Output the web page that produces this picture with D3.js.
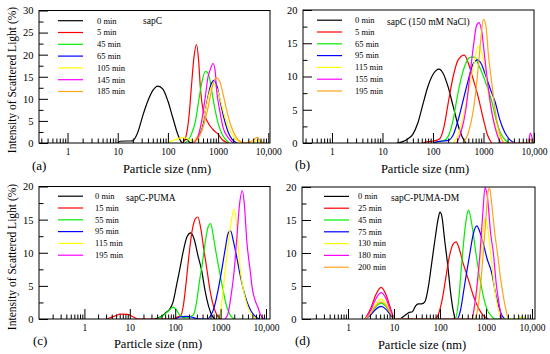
<!DOCTYPE html>
<html><head><meta charset="utf-8">
<script src="https://cdn.jsdelivr.net/npm/d3@7"></script>
<style>html,body{margin:0;padding:0;background:#fff;} svg{display:block;} svg text{font-family:"Liberation Serif","DejaVu Serif",serif !important;}</style>
</head><body>
<svg id="chart" width="550" height="354"></svg>
<script>
// ---------- tick data ----------
const xMajorValues = [1, 10, 100, 1000, 10000];
const xMajorLabels = ["1", "10", "100", "1000", "10,000"];
const minorMultipliers = [2, 3, 4, 5, 6, 7, 8, 9];
const yMajorA = [0, 5, 10, 15, 20, 25, 30];
const yMinorA = [2.5, 7.5, 12.5, 17.5, 22.5, 27.5];
const yMajor20 = [0, 5, 10, 15, 20];
const yMinor20 = [2.5, 7.5, 12.5, 17.5];

// ---------- panel (a) sapC ----------
const namesA = ["0 min", "5 min", "45 min", "65 min", "105 min", "145 min", "185 min"];
const a0 = [[10,0],[11.2,0.4],[20,0.5],[22.4,1.2],[25.1,2.4],[31.6,6.2],[39.8,9.5],[50.1,11.9],[63.1,12.9],[79.4,12.2],[100,9.5],[126,5.6],[158,1.9],[186,0.2],[195,0.05],[214,0.6],[234,0.9],[263,0.3],[302,0]];
const a5 = [[195,0],[229,1.5],[263,6],[295,13],[331,19.5],[372,22.3],[407,19],[447,12],[501,7.5],[603,5],[794,3],[1000,2],[1202,0.8],[1585,0]];
const a45 = [[219,0],[282,1.5],[355,5],[417,10],[479,14],[562,16.2],[646,15.5],[741,12],[871,7.5],[1000,4.5],[1202,2],[1413,0.8],[1660,0]];
const a65 = [[316,0],[398,1.2],[501,4.5],[603,9.5],[724,13.3],[832,14.2],[955,12.8],[1122,9],[1318,5.5],[1585,2.5],[1905,0.8],[2399,0]];
const a105 = [[95.5,0],[141,0.8],[200,1.2],[263,0.8],[316,0.5],[355,1],[447,3],[562,7.5],[676,11.5],[794,13.3],[933,12.5],[1122,9.5],[1318,6.5],[1585,3.8],[1995,1.5],[2512,0.4],[2818,0],[5012,0],[6026,0.6],[7079,0]];
const a145 = [[316,0],[398,1.5],[479,5.5],[550,10],[631,15],[692,16.5],[794,18],[871,16.5],[933,12],[1072,7.5],[1259,3.5],[1585,1.2],[1995,0]];
const a185 = [[316,0],[398,1],[501,3.5],[631,8],[759,12.5],[912,14.8],[1072,14],[1259,11],[1514,7],[1820,3.8],[2239,1.5],[2818,0.3],[3548,0.1],[4467,0.3],[5248,0.8],[6026,1.3],[6918,0.5],[7943,0]];

// ---------- panel (b) sapC (150 mM NaCl) ----------
const namesB = ["0 min", "5 min", "65 min", "95 min", "115 min", "155 min", "195 min"];
const b0 = [[19.1,0],[25.1,0.2],[31.6,0.6],[39.8,1.3],[50.1,3],[63.1,5.8],[79.4,8.5],[100,10.3],[132,11.1],[158,10.5],[200,8.4],[251,5.5],[316,2.6],[380,0.9],[447,0]];
const b5 = [[63.1,0],[79.4,0.2],[100,0.3],[126,0.5],[141,0.8],[166,2.5],[200,6],[251,10],[316,12.5],[417,13.2],[501,12],[631,9.5],[794,6.8],[1000,3.5],[1202,1.2],[1445,0]];
const b65 = [[100,0],[126,0.2],[158,0.3],[200,1],[251,3.5],[295,6.5],[355,9.5],[447,12],[562,12.9],[676,12.9],[794,11.8],[1000,10],[1259,7.8],[1445,6.4],[1778,3.5],[2239,1.3],[2818,0.3],[3162,0]];
const b95 = [[100,0],[126,0.2],[158,0.3],[200,0.4],[251,1.2],[316,3.5],[398,6.5],[501,9.5],[631,12],[759,12.5],[891,12],[1122,10],[1413,7.8],[1698,6.2],[2089,3.6],[2630,1.6],[3311,0.5],[4169,0]];
const b115 = [[251,0],[316,1.2],[398,4],[501,7.5],[631,11.5],[794,14.6],[933,13.5],[1122,10.5],[1259,7.3],[1585,3.5],[1995,1.2],[2630,0]];
const b155 = [[295,0],[355,1.5],[447,5],[525,9.5],[631,14.5],[724,17.6],[813,18.1],[912,17],[1072,12.5],[1259,8],[1514,4],[1820,1.5],[2291,0],[7586,0],[8511,1.5],[9550,0]];
const b195 = [[398,0],[501,1.5],[631,5],[741,9.3],[871,15],[1000,18.6],[1122,17.5],[1259,13],[1445,9.3],[1738,4.5],[2089,1.5],[2630,0],[7586,0],[8511,0.6],[9550,0]];

// ---------- panel (c) sapC-PUMA ----------
const namesC = ["0 min", "15 min", "55 min", "95 min", "115 min", "195 min"];
const c0 = [[35.5,0],[50.1,0.4],[63.1,1],[75.9,1.5],[89.1,2.5],[105,4.8],[126,7.5],[151,10.3],[182,12.4],[219,13],[263,12],[316,9.6],[380,7.4],[457,4.2],[550,1.8],[661,0.4],[759,0]];
const c15 = [[3.16,0],[4.47,0.4],[6.31,0.75],[8.91,0.7],[12,0.3],[14.8,0],[89.1,0],[112,0.3],[132,0.5],[151,2],[174,5.5],[200,9.5],[234,13.2],[282,15.2],[316,15.4],[363,13.8],[427,10.5],[501,7.4],[589,4.2],[708,1.8],[851,0.5],[1000,0]];
const c55 = [[39.8,0],[56.2,0.6],[75.9,1.4],[89.1,1.8],[105,1.4],[126,0.6],[158,0.2],[200,0.3],[251,0.6],[295,2.5],[339,5.5],[398,8.5],[468,12],[537,14],[603,14.4],[692,12.5],[794,10],[933,7.4],[1122,4.5],[1349,2],[1660,0.5],[1995,0]];
const c95 = [[100,0],[126,0.3],[178,0.4],[224,0.3],[282,0.1],[355,0],[501,0],[603,0.5],[724,1.8],[871,4.2],[1047,7.2],[1259,10.5],[1479,13],[1660,13.3],[1905,11.8],[2239,9.5],[2630,7],[3162,4.5],[3802,2.6],[4677,1.2],[5754,0.4],[7079,0]];
const c115 = [[891,0],[1000,1],[1122,4],[1259,7.4],[1479,11.5],[1738,15],[1995,16.6],[2239,14.5],[2512,10],[2818,6.5],[3311,3.8],[3981,1.8],[5012,0.5],[6310,0]];
const c195 = [[1259,0],[1479,1],[1698,3.5],[1995,7.4],[2291,12.5],[2630,17.5],[3020,19.4],[3311,17.5],[3802,11.5],[4467,7.4],[5012,4.5],[5754,2.8],[6607,1.8],[7586,0.6],[8913,0]];

// ---------- panel (d) sapC-PUMA-DM ----------
const namesD = ["0 min", "25 min", "45 min", "75 min", "130 min", "180 min", "200 min"];
const d0 = [[13.5,0],[17.8,0.6],[21.4,1],[25.1,1.1],[29.5,2],[33.9,2.3],[39.8,2.3],[46.8,2.6],[56.2,5],[66.1,8.5],[79.4,12.5],[91.2,15.2],[100,16.2],[110,15.5],[126,12],[148,8],[170,4],[191,1.5],[214,0]];
const d25 = [[2.34,0],[3.16,1.7],[3.98,3.6],[5.25,4.8],[6.61,3.8],[8.32,1.7],[10.5,0],[77.6,0],[93.3,0.8],[112,3],[132,6],[158,9.3],[191,11.3],[224,11.7],[263,10.6],[316,8.5],[380,6.8],[447,5.2],[525,3.6],[631,2.2],[794,0.9],[1000,0.2],[1122,0]];
const d45 = [[2.34,0],[3.16,0.85],[3.98,1.8],[5.25,2.4],[6.61,1.9],[8.32,0.85],[10.5,0],[214,0],[251,2.5],[295,8.2],[347,13.5],[398,16.2],[417,16.5],[501,14],[603,10],[724,6.5],[871,3.5],[1047,1.5],[1318,0.4],[1585,0],[5012,0],[6026,0.3],[7244,0]];
const d75 = [[2.34,0],[3.16,0.65],[3.98,1.45],[5.25,1.9],[6.61,1.5],[8.32,0.65],[10.5,0],[234,0],[282,1.5],[331,4.5],[380,7.1],[447,10],[525,12.8],[631,14.1],[724,13.3],[871,11.5],[1047,9.2],[1318,7.1],[1585,4.2],[1905,1.8],[2239,0.5],[2570,0]];
const d130 = [[2.34,0],[3.16,1.05],[3.98,2.25],[5.25,3],[6.61,2.4],[8.32,1.05],[10.5,0],[490,0],[562,1.5],[661,5],[759,9.5],[871,13.5],[955,15.3],[1072,14],[1259,10],[1479,5.5],[1778,2],[2188,0],[5012,0],[6026,0.3],[7244,0]];
const d180 = [[2.34,0],[3.16,1.4],[3.98,3],[5.25,4],[6.61,3.2],[8.32,1.4],[10.5,0],[490,0],[562,2],[646,5.5],[741,10],[851,16],[955,19.9],[1072,18.5],[1259,13],[1445,10],[1660,5.5],[1905,2.5],[2188,0]];
const d200 = [[2.34,0],[3.16,0.9],[3.98,1.95],[5.25,2.6],[6.61,2.1],[8.32,0.9],[10.5,0],[575,0],[661,1.5],[759,5],[871,10],[1000,15.5],[1122,19.5],[1202,19.8],[1349,17],[1585,12.5],[1778,9.9],[2089,6],[2512,2.5],[3020,0]];

// ---------- styling ----------
const colors7 = ["#000000", "#ff0000", "#00ee00", "#0000ff", "#ffff00", "#ff00ff", "#ffa31a"];
const FONT = "Liberation Serif";

const panels = [
  {title: "sapC", names: namesA, series: [a0,a5,a45,a65,a105,a145,a185],
   x0: 39, x1: 270, y0: 10.5, y1: 143, xDomain: [0.27, 10820], yMax: 30,
   yMajor: yMajorA, yMinor: yMinorA, minorDecades: [0.1,1,10,100,1000], minorFrom: 0.3,
   leg: {lx1: 58, lx2: 83, tx: 97, ty: 20.7}, titlePos: [143, 21], label: "(a)", labelPos: [32, 165],
   xTitlePos: [167, 169], yTitlePos: [12, 80]},
  {title: "sapC (150 mM NaCl)", names: namesB, series: [b0,b5,b65,b95,b115,b155,b195],
   x0: 303, x1: 534, y0: 10, y1: 143, xDomain: [0.267, 10000], yMax: 20,
   yMajor: yMajor20, yMinor: yMinor20, minorDecades: [0.1,1,10,100,1000], minorFrom: 0.3,
   leg: {lx1: 317, lx2: 342, tx: 355, ty: 20.2}, titlePos: [387, 21.5], label: "(b)", labelPos: [295, 164],
   xTitlePos: [425, 169], yTitlePos: null},
  {title: "sapC-PUMA", names: namesC, series: [c0,c15,c55,c95,c115,c195],
   x0: 39, x1: 270, y0: 186.5, y1: 319, xDomain: [0.1, 12240], yMax: 20,
   yMajor: yMajor20, yMinor: yMinor20, minorDecades: [0.1,1,10,100,1000], minorFrom: 0.2,
   leg: {lx1: 58, lx2: 83, tx: 95, ty: 196.2}, titlePos: [126, 197.5], label: "(c)", labelPos: [33, 340],
   xTitlePos: [158, 344], yTitlePos: [12, 257]},
  {title: "sapC-PUMA-DM", names: namesD, series: [d0,d25,d45,d75,d130,d180,d200],
   x0: 302, x1: 535, y0: 187, y1: 319, xDomain: [0.1, 11610], yMax: 20,
   yMajor: yMajor20, yMinor: yMinor20, minorDecades: [0.1,1,10,100,1000], minorFrom: 0.2,
   leg: {lx1: 324, lx2: 349, tx: 358, ty: 196.4}, titlePos: [391, 197.5], label: "(d)", labelPos: [295, 340],
   xTitlePos: [422, 345], yTitlePos: null}
];

const svg = d3.select("#chart");

panels.forEach((p, pi) => {
  const g = svg.append("g");
  const x = d3.scaleLog().domain(p.xDomain).range([p.x0, p.x1]);
  const y = d3.scaleLinear().domain([0, p.yMax]).range([p.y1, p.y0]);

  const clipId = "clip" + pi;
  g.append("clipPath").attr("id", clipId).append("rect")
    .attr("x", p.x0).attr("y", p.y0 - 2).attr("width", p.x1 - p.x0).attr("height", p.y1 - p.y0 + 2);

  const line = d3.line().x(d => x(d[0])).y(d => y(d[1])).curve(d3.curveMonotoneX);
  const cg = g.append("g").attr("clip-path", `url(#${clipId})`);
  p.series.forEach((s, i) => {
    cg.append("path").datum(s).attr("d", line)
      .attr("fill", "none").attr("stroke", colors7[i]).attr("stroke-width", 1.2)
      .attr("stroke-linejoin", "round");
  });

  // minor x ticks
  const minors = [];
  p.minorDecades.forEach(dec => minorMultipliers.forEach(m => {
    const v = +(dec * m).toPrecision(3);
    if (v >= p.minorFrom && v <= p.xDomain[1]) minors.push(v);
  }));
  g.append("g").attr("transform", `translate(0,${p.y1})`)
    .call(d3.axisBottom(x).tickValues(minors).tickSizeInner(-4.5).tickSizeOuter(0).tickFormat(""))
    .call(a => a.select(".domain").remove());
  // major x ticks
  const majVals = xMajorValues.filter(v => v <= p.xDomain[1] * 1.001);
  g.append("g").attr("transform", `translate(0,${p.y1})`)
    .call(d3.axisBottom(x).tickValues(majVals).tickSizeInner(-10).tickSizeOuter(0).tickPadding(5.5)
      .tickFormat(d => xMajorLabels[xMajorValues.indexOf(d)]))
    .call(a => a.select(".domain").remove())
    .call(a => a.attr("font-family", null))
    .call(a => a.selectAll("text").style("font-size", "9.5px").attr("fill", "#000"));

  // y ticks
  g.append("g").attr("transform", `translate(${p.x0},0)`)
    .call(d3.axisLeft(y).tickValues(p.yMinor).tickSizeInner(-4.5).tickSizeOuter(0).tickFormat(""))
    .call(a => a.select(".domain").remove());
  g.append("g").attr("transform", `translate(${p.x0},0)`)
    .call(d3.axisLeft(y).tickValues(p.yMajor).tickSizeInner(-9).tickSizeOuter(0).tickPadding(5.5).tickFormat(d3.format("d")))
    .call(a => a.select(".domain").remove())
    .call(a => a.attr("font-family", null))
    .call(a => a.selectAll("text").style("font-size", "10.5px").attr("fill", "#000"));

  g.selectAll(".tick line").attr("stroke", "#000").attr("stroke-width", 1);

  // frame
  g.append("rect").attr("x", p.x0).attr("y", p.y0).attr("width", p.x1 - p.x0).attr("height", p.y1 - p.y0)
    .attr("fill", "none").attr("stroke", "#000").attr("stroke-width", 1);

  // legend
  p.names.forEach((n, i) => {
    const ly = p.leg.ty + i * 11.8;
    g.append("line").attr("x1", p.leg.lx1).attr("x2", p.leg.lx2).attr("y1", ly).attr("y2", ly)
      .attr("stroke", colors7[i]).attr("stroke-width", 1.2);
    g.append("text").attr("x", p.leg.tx).attr("y", ly).attr("dy", "0.33em")
      .style("font-size", "8.5px").text(n);
  });
  g.append("text").attr("x", p.titlePos[0]).attr("y", p.titlePos[1]).attr("dy", "0.33em")
    .style("font-size", "9.5px").text(p.title);

  // panel label
  g.append("text").attr("x", p.labelPos[0]).attr("y", p.labelPos[1]).attr("dy", "0.35em")
    .style("font-size", "13px").text(p.label);
  // axis titles
  g.append("text").attr("x", p.xTitlePos[0]).attr("y", p.xTitlePos[1]).attr("dy", "0.35em")
    .attr("text-anchor", "middle").style("font-size", "12.5px").text("Particle size (nm)");
  if (p.yTitlePos) {
    g.append("text").attr("transform", `translate(${p.yTitlePos[0]},${p.yTitlePos[1]}) rotate(-90)`)
      .attr("dy", "0.35em").attr("text-anchor", "middle").style("font-size", "11.5px")
      .text("Intensity of Scattered Light (%)");
  }
});
</script></body></html>
